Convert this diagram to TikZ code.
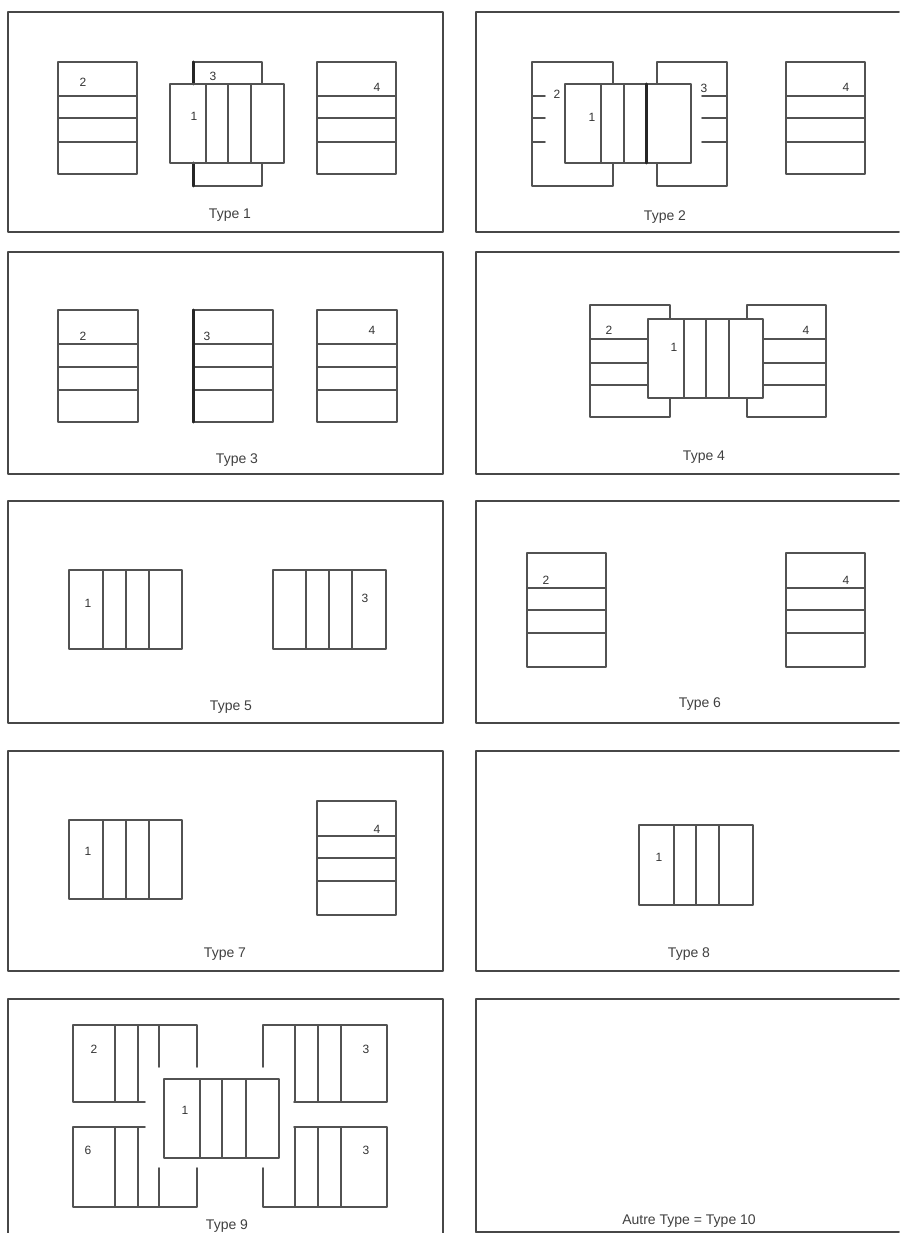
\documentclass[tikz,border=0pt]{standalone}
\usepackage{fontspec}
\setmainfont{Liberation Sans}
\tikzset{
  panel/.style={line width=1.9pt,draw=black!72},
  part/.style={line width=1.8pt,draw=black!68},
  heavy/.style={line width=3pt,draw=black!85},
  num/.style={font=\fontsize{12}{14}\selectfont,text=black!80,inner sep=0pt},
  caption/.style={font=\fontsize{14}{16}\selectfont,text=black!75,inner sep=0pt}
}
\begin{document}
\begin{tikzpicture}[x=1pt,y=-1pt,line cap=round,line join=round]
  \useasboundingbox (0,0) rectangle (899,1233);

  % Panels, the right column runs off the page
  \foreach \ya/\yb in {12/232,252/474,501/723,751/971}{
    \draw[panel] (8,\ya) rectangle (443,\yb);
    \draw[panel] (899,\ya) -- (476,\ya) -- (476,\yb) -- (899,\yb);
  }
  \draw[panel] (8,1233) -- (8,999) -- (443,999) -- (443,1233);
  \draw[panel] (476,1232) -- (476,999) -- (899,999);
  \draw[panel] (476,1232) -- (899,1232);

  % Type 1
  \foreach \xa in {58,317}{
    \draw[part] (\xa,62) rectangle +(79,112);
    \foreach \yy in {96,118,142} \draw[part] (\xa,\yy) -- +(79,0);
  }
  \draw[part] (193,84) |- (262,62) -- (262,84);
  \draw[part] (193,163) |- (262,186) -- (262,163);
  \draw[heavy] (193,62) -- (193,84);
  \draw[heavy] (193,163) -- (193,186);
  \draw[part] (170,84) rectangle (284,163);
  \foreach \xx in {206,228,251} \draw[part] (\xx,84) -- (\xx,163);
  \node[num] (t1a) at (83,82) {2};
  \node[num] (t1b) at (213,76) {3};
  \node[num] (t1c) at (194,116) {1};
  \node[num] (t1d) at (377,87) {4};
  \node[caption] (t1) at (230,215) {Type 1};

  % Type 2
  \draw[part] (613,84) -- (613,62) -- (532,62) -- (532,186) -- (613,186) -- (613,163);
  \draw[part] (657,84) -- (657,62) -- (727,62) -- (727,186) -- (657,186) -- (657,163);
  \foreach \yy in {96,118,142}{
    \draw[part] (532,\yy) -- (545,\yy);
    \draw[part] (702,\yy) -- (727,\yy);
    \draw[part] (786,\yy) -- (865,\yy);
  }
  \draw[part] (786,62) rectangle (865,174);
  \draw[part] (565,84) rectangle (691,163);
  \draw[part] (601,84) -- (601,163);
  \draw[part] (624,84) -- (624,163);
  \draw[heavy] (646,84) -- (646,163);
  \node[num] (t2a) at (557,94) {2};
  \node[num] (t2b) at (592,117) {1};
  \node[num] (t2c) at (704,88) {3};
  \node[num] (t2d) at (846,87) {4};
  \node[caption] (t2) at (665,217) {Type 2};

  % Type 3
  \foreach \xa in {58,193,317}{
    \draw[part] (\xa,310) rectangle +(80,112);
    \foreach \yy in {344,367,390} \draw[part] (\xa,\yy) -- +(80,0);
  }
  \draw[heavy] (193,310) -- (193,422);
  \node[num] (t3a) at (83,336) {2};
  \node[num] (t3b) at (207,336) {3};
  \node[num] (t3c) at (372,330) {4};
  \node[caption] (t3) at (237,460) {Type 3};

  % Type 4
  \draw[part] (670,319) -- (670,305) -- (590,305) -- (590,417) -- (670,417) -- (670,398);
  \draw[part] (747,319) -- (747,305) -- (826,305) -- (826,417) -- (747,417) -- (747,398);
  \foreach \yy in {339,363,385}{
    \draw[part] (590,\yy) -- (648,\yy);
    \draw[part] (763,\yy) -- (826,\yy);
  }
  \draw[part] (648,319) rectangle (763,398);
  \foreach \xx in {684,706,729} \draw[part] (\xx,319) -- (\xx,398);
  \node[num] (t4a) at (609,330) {2};
  \node[num] (t4b) at (674,347) {1};
  \node[num] (t4c) at (806,330) {4};
  \node[caption] (t4) at (704,457) {Type 4};

  % Type 5
  \draw[part] (69,570) rectangle (182,649);
  \foreach \xx in {103,126,149} \draw[part] (\xx,570) -- (\xx,649);
  \draw[part] (273,570) rectangle (386,649);
  \foreach \xx in {306,329,352} \draw[part] (\xx,570) -- (\xx,649);
  \node[num] (t5a) at (88,603) {1};
  \node[num] (t5b) at (365,598) {3};
  \node[caption] (t5) at (231,707) {Type 5};

  % Type 6
  \foreach \xa in {527,786}{
    \draw[part] (\xa,553) rectangle +(79,114);
    \foreach \yy in {588,610,633} \draw[part] (\xa,\yy) -- +(79,0);
  }
  \node[num] (t6a) at (546,580) {2};
  \node[num] (t6b) at (846,580) {4};
  \node[caption] (t6) at (700,704) {Type 6};

  % Type 7
  \draw[part] (69,820) rectangle (182,899);
  \foreach \xx in {103,126,149} \draw[part] (\xx,820) -- (\xx,899);
  \draw[part] (317,801) rectangle (396,915);
  \foreach \yy in {836,858,881} \draw[part] (317,\yy) -- (396,\yy);
  \node[num] (t7a) at (88,851) {1};
  \node[num] (t7b) at (377,829) {4};
  \node[caption] (t7) at (225,954) {Type 7};

  % Type 8
  \draw[part] (639,825) rectangle (753,905);
  \foreach \xx in {674,696,719} \draw[part] (\xx,825) -- (\xx,905);
  \node[num] (t8a) at (659,857) {1};
  \node[caption] (t8) at (689,954) {Type 8};

  % Type 9, upper pair
  \draw[part] (197,1067) -- (197,1025) -- (73,1025) -- (73,1102) -- (145,1102);
  \draw[part] (159,1025) -- (159,1067);
  \draw[part] (115,1025) -- (115,1102);
  \draw[part] (138,1025) -- (138,1102);
  \draw[part] (263,1067) -- (263,1025) -- (387,1025) -- (387,1102) -- (294,1102);
  \foreach \xx in {295,318,341} \draw[part] (\xx,1025) -- (\xx,1102);

  % Type 9, lower pair
  \draw[part] (145,1127) -- (73,1127) -- (73,1207) -- (197,1207) -- (197,1168);
  \draw[part] (159,1168) -- (159,1207);
  \draw[part] (115,1127) -- (115,1207);
  \draw[part] (138,1127) -- (138,1207);
  \draw[part] (294,1127) -- (387,1127) -- (387,1207) -- (263,1207) -- (263,1168);
  \foreach \xx in {295,318,341} \draw[part] (\xx,1127) -- (\xx,1207);

  % Type 9, centre
  \draw[part] (164,1079) rectangle (279,1158);
  \foreach \xx in {200,222,246} \draw[part] (\xx,1079) -- (\xx,1158);
  \node[num] (t9a) at (94,1049) {2};
  \node[num] (t9b) at (366,1049) {3};
  \node[num] (t9c) at (185,1110) {1};
  \node[num] (t9d) at (88,1150) {6};
  \node[num] (t9e) at (366,1150) {3};
  \node[caption] (t9) at (227,1226) {Type 9};

  % Empty panel
  \node[caption] (t10) at (689,1221) {Autre Type = Type 10};
\end{tikzpicture}
\end{document}
